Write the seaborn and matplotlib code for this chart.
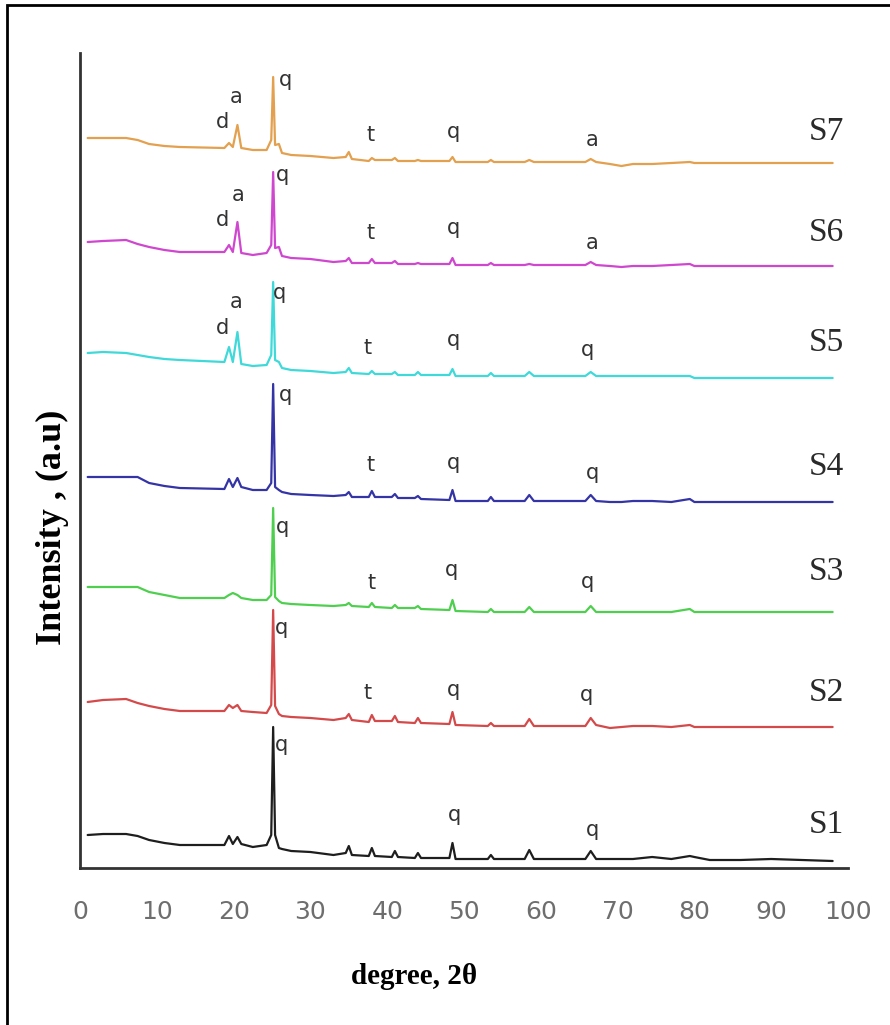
import matplotlib
matplotlib.use("Agg")
import matplotlib.pyplot as plt
from matplotlib import font_manager
from matplotlib.patches import Rectangle
import pandas as pd
import seaborn as sns

# 2-theta grid (degrees) shared by all patterns
two_theta = [1.0, 3, 6, 7.5, 9, 11, 13, 18.8, 19.4, 19.9, 20.5, 21.0, 22.5, 24.3,
             24.9, 25.15, 25.4, 25.9, 26.3, 27.5, 30, 33, 34.6, 35.0, 35.4, 37.6,
             38.0, 38.4, 40.6, 41.0, 41.4, 43.6, 44.0, 44.4, 48.1, 48.5, 48.9,
             53.1, 53.5, 53.9, 57.9, 58.5, 59.1, 65.8, 66.5, 67.2, 69, 70.5, 72,
             74.5, 77, 79.4, 80, 82, 86, 90, 94, 98]

# stacked intensities (a.u.)
s1 = [33, 34, 34, 32, 28, 25, 23, 23, 32, 24, 31, 24, 21, 23, 33, 141, 33, 20, 19, 17,
      16, 13, 15, 22, 13, 12, 20, 12, 11, 17, 11, 10, 15, 10, 10, 25, 9, 9, 13, 9, 9,
      18, 9, 9, 17, 9, 9, 9, 9, 11, 9, 12, 11, 8, 8, 9, 8, 7]
s2 = [166, 168, 169, 165, 162, 159, 157, 157, 163, 160, 163, 157, 156, 155, 163, 258,
      162, 154, 152, 151, 150, 148, 150, 154, 148, 146, 153, 147, 147, 152, 146, 145,
      150, 145, 144, 156, 143, 142, 145, 142, 142, 149, 142, 142, 150, 143, 140, 141,
      142, 142, 141, 143, 141, 141, 141, 141, 141, 141]
s3 = [281, 281, 281, 281, 276, 273, 270, 270, 273, 275, 273, 270, 268, 268, 273, 360,
      271, 267, 265, 264, 263, 262, 263, 265, 262, 261, 265, 261, 260, 263, 260, 260,
      262, 259, 258, 268, 257, 256, 259, 256, 256, 261, 256, 256, 262, 256, 256, 256,
      256, 256, 256, 259, 256, 256, 256, 256, 256, 256]
s4 = [391, 391, 391, 391, 385, 382, 380, 379, 389, 381, 390, 381, 378, 378, 385, 484,
      381, 378, 376, 374, 373, 372, 373, 376, 371, 371, 377, 371, 371, 374, 370, 370,
      372, 369, 368, 378, 367, 367, 371, 367, 367, 373, 367, 367, 373, 367, 366, 366,
      367, 367, 366, 369, 366, 366, 366, 366, 366, 366]
s5 = [515, 516, 515, 513, 511, 509, 508, 506, 521, 506, 536, 504, 502, 503, 513, 586,
      508, 506, 500, 498, 497, 495, 496, 500, 495, 494, 497, 494, 494, 496, 493, 493,
      496, 493, 493, 499, 492, 492, 495, 492, 492, 496, 492, 492, 496, 492, 492, 492,
      492, 492, 492, 492, 490, 490, 490, 490, 490, 490]
s6 = [626, 627, 628, 624, 621, 618, 616, 616, 623, 616, 646, 615, 613, 615, 623, 696,
      620, 621, 612, 610, 609, 606, 607, 610, 605, 605, 609, 605, 605, 607, 604, 604,
      605, 604, 604, 610, 603, 603, 605, 603, 603, 604, 603, 603, 606, 603, 602, 601,
      602, 602, 603, 604, 602, 602, 602, 602, 602, 602]
s7 = [730, 730, 730, 728, 724, 722, 721, 720, 725, 721, 743, 720, 718, 718, 728, 791,
      723, 724, 715, 713, 712, 710, 711, 716, 709, 707, 710, 708, 708, 710, 707, 707,
      708, 707, 707, 711, 706, 706, 708, 706, 706, 708, 706, 706, 709, 706, 704, 702,
      704, 704, 705, 706, 705, 705, 705, 705, 705, 705]

samples = ["S1", "S2", "S3", "S4", "S5", "S6", "S7"]
colors = ["#1e1e1e", "#d44a4a", "#4fcf4f", "#3434a6", "#3fd9d9", "#cf47cf", "#e3a04e"]

# phase marks: (letter, 2theta, height)
marks_s1 = [("q", 26.3, 123), ("q", 48.8, 53), ("q", 66.7, 38)]
marks_s2 = [("q", 26.3, 240), ("t", 37.5, 175), ("q", 48.6, 178), ("q", 66.0, 173)]
marks_s3 = [("q", 26.4, 341), ("t", 38.0, 285), ("q", 48.4, 298), ("q", 66.1, 286)]
marks_s4 = [("q", 26.7, 473), ("t", 37.8, 403), ("q", 48.6, 405), ("q", 66.7, 395)]
marks_s5 = [("d", 18.6, 540), ("a", 20.3, 566), ("q", 26.0, 575), ("t", 37.5, 520),
            ("q", 48.6, 528), ("q", 66.1, 518)]
marks_s6 = [("d", 18.6, 648), ("a", 20.6, 673), ("q", 26.4, 693), ("t", 37.8, 635),
            ("q", 48.6, 640), ("a", 66.7, 625)]
marks_s7 = [("d", 18.6, 746), ("a", 20.3, 771), ("q", 26.7, 788), ("t", 37.8, 733),
            ("q", 48.6, 736), ("a", 66.7, 728)]
sample_label_x = 97.2
sample_label_y = [43, 175, 296, 401, 525, 635, 736]

sns.set_style("white")
names = {f.name for f in font_manager.fontManager.ttflist}
narrow = "DejaVu Sans"
for cand in ["DejaVu Sans Condensed", "Liberation Sans Narrow"]:
    if cand in names:
        narrow = cand
        break
plt.rcParams["font.family"] = [narrow, "DejaVu Sans"]

df = pd.concat([pd.DataFrame({"two_theta": two_theta, "intensity": vals, "sample": name})
                for name, vals in zip(samples, [s1, s2, s3, s4, s5, s6, s7])])

fig = plt.figure(figsize=(8.9, 10.25), dpi=100)
ax = fig.add_axes([80 / 890, 157 / 1025, 768 / 890, 815 / 1025])

sns.lineplot(data=df, x="two_theta", y="intensity", hue="sample",
             palette=dict(zip(samples, colors)), estimator=None, sort=False,
             legend=False, linewidth=1.6, ax=ax)

for marks in [marks_s1, marks_s2, marks_s3, marks_s4, marks_s5, marks_s6, marks_s7]:
    for letter, x, y in marks:
        ax.text(x, y, letter, ha="center", va="center", fontsize=15, color="#333333")

for name, y in zip(samples, sample_label_y):
    ax.text(sample_label_x, y, name, ha="center", va="center", fontsize=24,
            family="Liberation Serif", color="#2a2a2a")

ax.set_xlim(0, 100)
ax.set_ylim(0, 815)
ax.set_xticks(range(0, 101, 10))
ax.set_xticks(range(5, 100, 10), minor=True)
ax.set_yticks([])
ax.tick_params(axis="x", which="major", direction="out", length=13, width=1.6,
               color="#333333", labelsize=18, labelcolor="#6e6e6e", pad=10)
ax.tick_params(axis="x", which="minor", direction="out", length=8, width=1.6,
               color="#333333")
ax.set_xlabel("")
ax.set_ylabel("")
sns.despine(ax=ax)
for side in ["left", "bottom"]:
    ax.spines[side].set_linewidth(2)
    ax.spines[side].set_color("#333333")

fig.text(414 / 890, 1 - 977 / 1025, "degree, 2θ", ha="center", va="center",
         fontsize=21, fontweight="bold", family="Liberation Serif", color="black")
fig.text(52 / 890, 1 - 527 / 1025, "Intensity , (a.u)", ha="center", va="center",
         rotation=90, fontsize=26, fontweight="bold", family="Liberation Serif",
         color="black")

# outer frame (only left and top edges fall inside the picture)
fig.add_artist(Rectangle((7 / 890, -0.05), 1.2, 1.05 - 5 / 1025, transform=fig.transFigure,
                         fill=False, lw=2, edgecolor="black"))

fig.savefig("out.png", dpi=100)
